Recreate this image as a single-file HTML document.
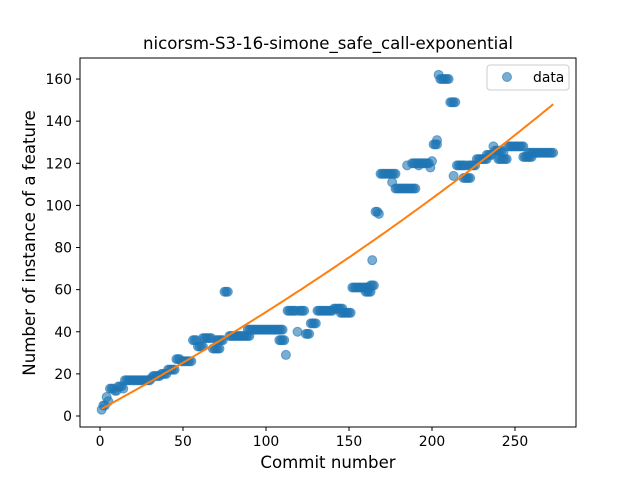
<!DOCTYPE html>
<html><head><meta charset="utf-8"><style>
body{margin:0;background:#fff;font-family:"DejaVu Sans","Liberation Sans",sans-serif}
svg text{font-family:"DejaVu Sans","Liberation Sans",sans-serif}
</style></head><body>
<svg id="chart" width="640" height="480" xmlns="http://www.w3.org/2000/svg">
<rect width="640" height="480" fill="#fff"/>
<text x="328" y="49" font-size="16.6" text-anchor="middle">nicorsm-S3-16-simone_safe_call-exponential</text>
<g id="plot"></g>
<rect x="80" y="58" width="496" height="369" fill="none" stroke="#000" stroke-width="1"/>
<g id="ticks"></g>
<text x="328" y="468" font-size="16.6" text-anchor="middle">Commit number</text>
<text transform="translate(35,243) rotate(-90)" font-size="16.6" text-anchor="middle">Number of instance of a feature</text>
<g>
<rect x="487" y="65" width="82" height="25" rx="3" fill="#fff" stroke="#ccc"/>
<circle cx="507" cy="77" r="4.5" fill="#1f77b4" fill-opacity="0.6" stroke="#1f77b4" stroke-opacity="0.6"/>
<text x="533" y="82" font-size="13.9">data</text>
</g>
</svg>
<script>
// data segments: run start commit, run end commit, value
const segStart = [1,2,3,4,5,6,9,11,14,15,31,32,37,41,46,49,56,59,62,68,70,75,78,89,108,112,113,119,120,124,127,131,141,145,152,160,163,164,166,168,169,176,178,185,188,192,199,200,201,203,204,205,211,213,215,219,222,227,233,237,238,240,243,246,255,258];
const segEnd   = [1,2,3,4,5,8,10,13,14,30,31,36,40,45,48,55,58,62,67,72,74,77,90,110,111,112,118,119,123,126,130,140,146,151,162,163,165,164,167,168,178,176,190,185,198,192,199,200,203,203,204,210,214,213,220,223,226,233,236,237,242,245,243,255,260,273];
const segVal   = [3,5,5,9,7,13,12,14,13,17,18,19,20,22,27,26,36,33,37,32,36,59,38,41,36,29,50,40,50,39,44,50,51,49,61,59,62,74,97,96,115,111,108,119,120,119,118,121,129,131,162,160,149,114,119,113,119,122,124,128,126,122,125,128,123,125];
const fitA = 286.6, fitB = 0.0015, fitC = 3, fitX0 = 1, fitX1 = 273;
const xTicks = [0,50,100,150,200,250];
const yTicks = [0,20,40,60,80,100,120,140,160];

const X = v => 100 + v*1.66;
const Y = v => 416 - v*2.106;
const NS = "http://www.w3.org/2000/svg";
const plot = document.getElementById('plot'), ticks = document.getElementById('ticks');

for (let i=0;i<segStart.length;i++){
  for (let x=segStart[i]; x<=segEnd[i]; x++){
    const c = document.createElementNS(NS,'circle');
    c.setAttribute('cx',X(x)); c.setAttribute('cy',Y(segVal[i])); c.setAttribute('r',4.5);
    c.setAttribute('fill','#1f77b4'); c.setAttribute('fill-opacity','0.6');
    c.setAttribute('stroke','#1f77b4'); c.setAttribute('stroke-opacity','0.6');
    
    
    plot.appendChild(c);
  }
}
let d = '';
for (let x=fitX0; x<=fitX1; x+=2){
  const y = fitA*(Math.exp(fitB*x)-1)+fitC;
  d += (d?'L':'M') + X(x).toFixed(1) + ' ' + Y(y).toFixed(1);
}
const line = document.createElementNS(NS,'path');
line.setAttribute('d',d); line.setAttribute('fill','none'); line.setAttribute('stroke','#ff7f0e'); line.setAttribute('stroke-width','2');


plot.appendChild(line);

xTicks.forEach(t=>{
  const l = document.createElementNS(NS,'line');
  l.setAttribute('x1',X(t)); l.setAttribute('x2',X(t)); l.setAttribute('y1',427); l.setAttribute('y2',431); l.setAttribute('stroke','#000');
  
  
  ticks.appendChild(l);
  const tx = document.createElementNS(NS,'text');
  tx.setAttribute('x',X(t)); tx.setAttribute('y',446); tx.setAttribute('font-size','13.9'); tx.setAttribute('text-anchor','middle');
  tx.textContent = t;
  
  
  ticks.appendChild(tx);
});
yTicks.forEach(t=>{
  const l = document.createElementNS(NS,'line');
  l.setAttribute('x1',76); l.setAttribute('x2',80); l.setAttribute('y1',Y(t)); l.setAttribute('y2',Y(t)); l.setAttribute('stroke','#000');
  
  
  ticks.appendChild(l);
  const tx = document.createElementNS(NS,'text');
  tx.setAttribute('x',72); tx.setAttribute('y',Y(t)+5); tx.setAttribute('font-size','13.9'); tx.setAttribute('text-anchor','end');
  tx.textContent = t;
  
  
  ticks.appendChild(tx);
});
</script>
</body></html>
